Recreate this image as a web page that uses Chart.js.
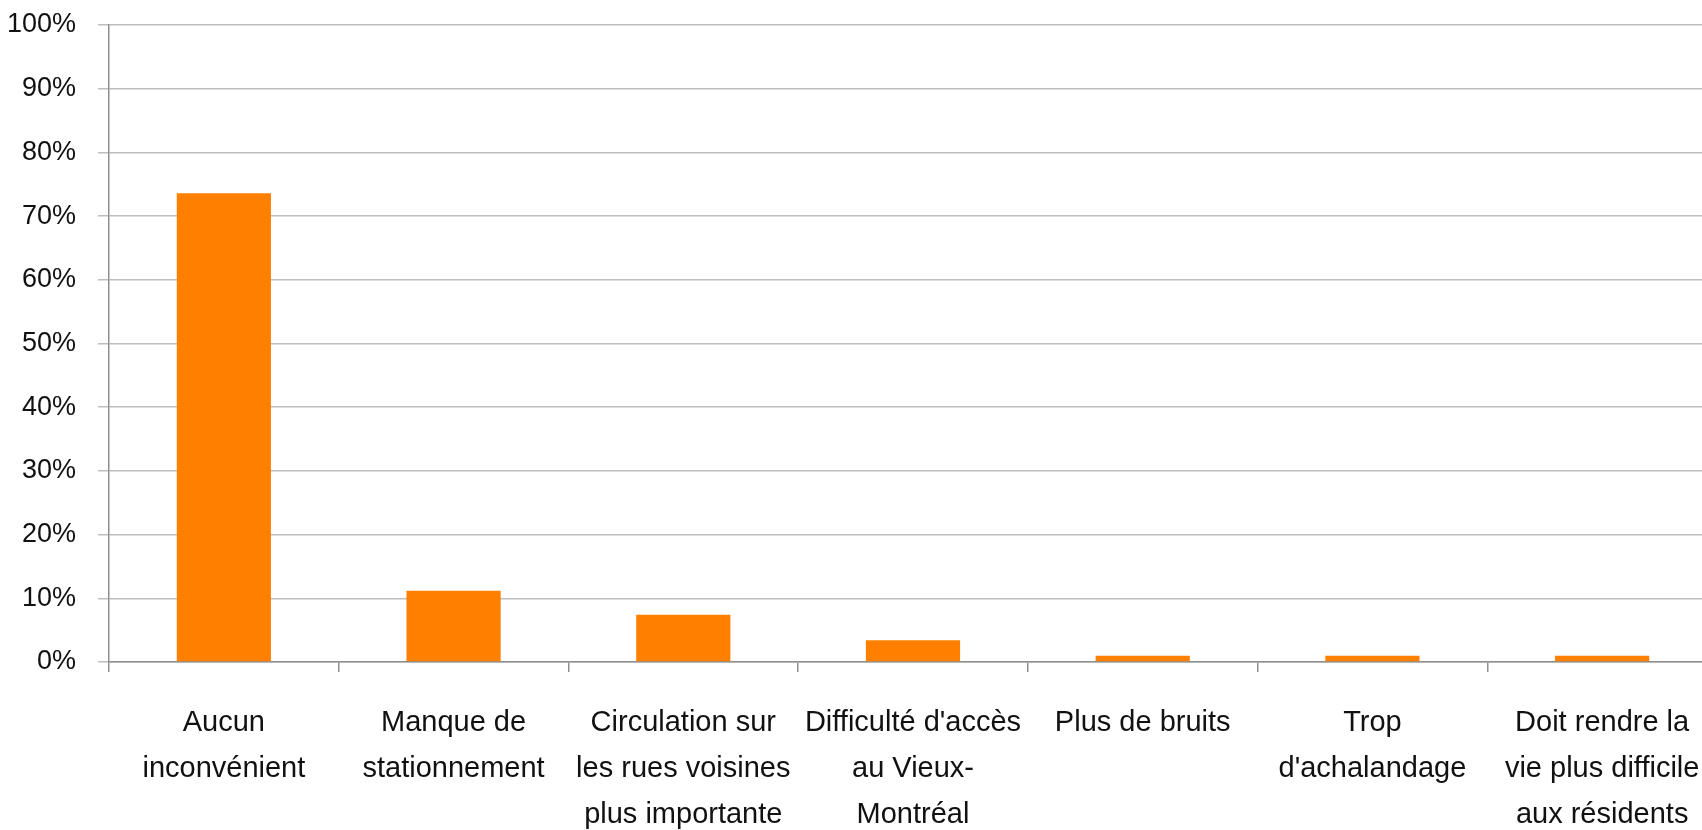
<!DOCTYPE html>
<html>
<head>
<meta charset="utf-8">
<script src="https://cdn.jsdelivr.net/npm/chart.js@4"></script>
<style>
  html, body { margin: 0; padding: 0; background: #fff; overflow: hidden; }
  #wrap { width: 1720px; height: 830px; }
</style>
</head>
<body>
<div id="wrap"><canvas id="barChart"></canvas></div>
<script>
const CATEGORIES = [
  ['Aucun', 'inconvénient'],
  ['Manque de', 'stationnement'],
  ['Circulation sur', 'les rues voisines', 'plus importante'],
  ["Difficulté d'accès", 'au Vieux-', 'Montréal'],
  ['Plus de bruits'],
  ['Trop', "d'achalandage"],
  ['Doit rendre la', 'vie plus difficile', 'aux résidents']
];
const VALUES = [73.6, 11.2, 7.4, 3.4, 1.0, 1.0, 1.0];
const Y_MIN = 0, Y_MAX = 100, Y_STEP = 10;

const BAR_COLOR = '#FF8000';
const GRID_COLOR = '#bdbdbd';
const AXIS_COLOR = '#8f8f8f';
const FONT = "'Liberation Sans', Arial, sans-serif";

new Chart(document.getElementById('barChart'), {
  type: 'bar',
  data: {
    labels: CATEGORIES,
    datasets: [{
      data: VALUES,
      backgroundColor: BAR_COLOR,
      borderWidth: 0,
      barPercentage: 0.41,
      categoryPercentage: 1
    }]
  },
  options: {
    responsive: true, maintainAspectRatio: false, animation: false,
    layout: { padding: { left: 0, top: 25, right: 3, bottom: 0 } },
    plugins: { legend: { display: false }, tooltip: { enabled: false } },
    scales: {
      x: {
        grid: { drawOnChartArea: false, drawTicks: true, tickLength: 10, color: AXIS_COLOR, lineWidth: 1.5 },
        border: { color: AXIS_COLOR, width: 1.5 },
        ticks: { color: '#111', padding: 28, maxRotation: 0, autoSkip: false, font: { family: FONT, size: 29, lineHeight: '46px' } },
        afterFit: (s) => { s.height = 168; s.paddingLeft = 0; s.paddingRight = 0; }
      },
      y: {
        min: Y_MIN, max: Y_MAX,
        grid: { color: GRID_COLOR, lineWidth: 1.5, tickLength: 11 },
        border: { color: AXIS_COLOR, width: 1.5 },
        ticks: { stepSize: Y_STEP, color: '#111', padding: 22, font: { family: FONT, size: 27 }, callback: (v) => v + '%' },
        afterFit: (s) => { s.width = 109; s.paddingTop = 0; s.paddingBottom = 0; }
      }
    }
  }
});
</script>
</body>
</html>
